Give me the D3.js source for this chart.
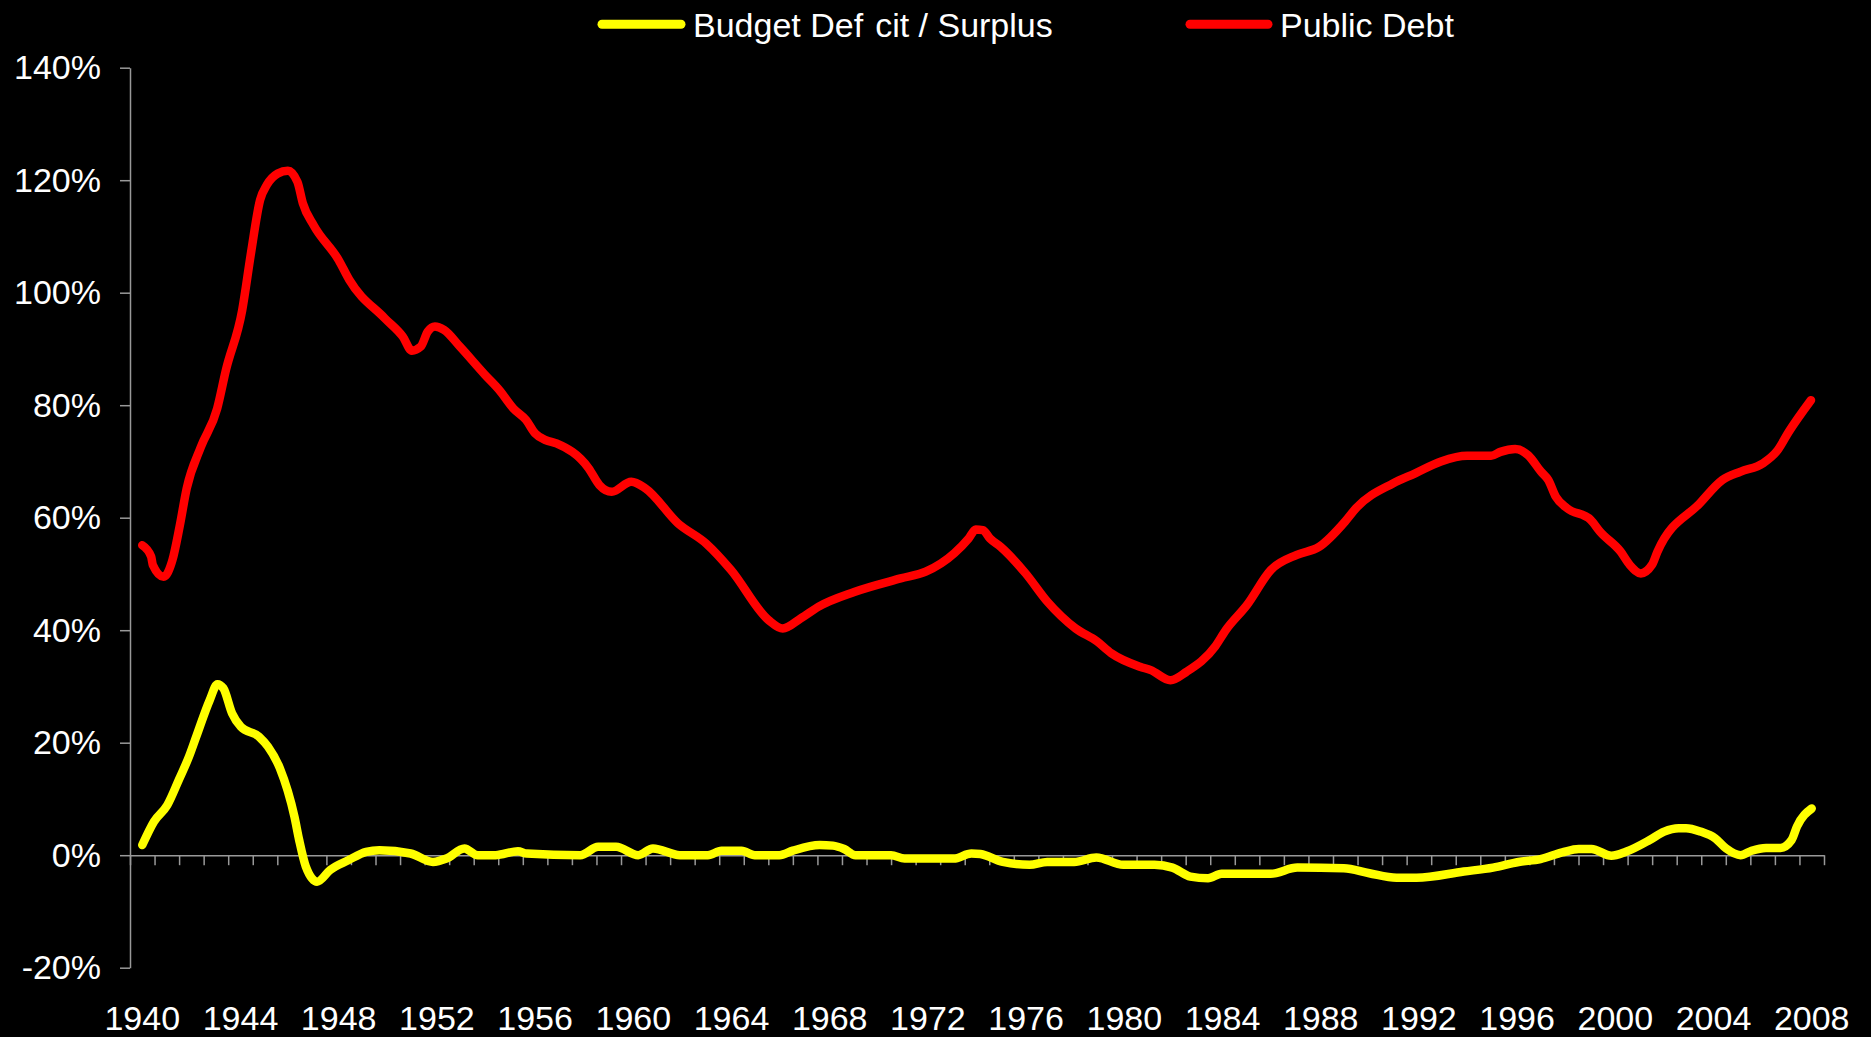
<!DOCTYPE html>
<html>
<head>
<meta charset="utf-8">
<script src="https://cdn.jsdelivr.net/npm/d3@7"></script>
<style>
  html, body { margin: 0; padding: 0; background: #000; }
  svg { display: block; }
  text { font-family: "Liberation Sans", Arial, sans-serif; fill: #fff; }
</style>
</head>
<body>
<svg id="chart" width="1871" height="1037"></svg>
<script>
// Fiscal years shown on the category axis
const firstYear = 1940;
const lastYear = 2008;
const yearLabels = [1940, 1944, 1948, 1952, 1956, 1960, 1964, 1968, 1972, 1976, 1980, 1984, 1988, 1992, 1996, 2000, 2004, 2008];
const percentTicks = [-20, 0, 20, 40, 60, 80, 100, 120, 140];

// Budget deficit (+) / surplus (-) as % of GDP
const deficitYears = [1940.0, 1940.48, 1941.02, 1941.5, 1941.9, 1942.2, 1942.75, 1943.06, 1943.3, 1943.66, 1944.02, 1944.75, 1945.12, 1945.6, 1946.2, 1946.39, 1946.66, 1947.12, 1947.66, 1948.39, 1949.12, 1949.66, 1950.93, 1951.84, 1952.39, 1953.12, 1953.66, 1954.39, 1955.3, 1955.66, 1957.84, 1958.57, 1959.3, 1960.2, 1960.8, 1961.9, 1963.04, 1963.59, 1964.41, 1964.95, 1965.95, 1966.5, 1967.59, 1968.13, 1968.59, 1969.05, 1970.5, 1971.05, 1973.05, 1973.77, 1974.14, 1975.05, 1976.14, 1976.86, 1977.96, 1978.86, 1979.96, 1981.23, 1981.96, 1982.69, 1983.41, 1983.96, 1985.96, 1987.05, 1988.94, 1989.98, 1991.09, 1991.9, 1993.83, 1995.02, 1996.06, 1996.95, 1997.84, 1998.51, 1999.03, 1999.84, 2000.43, 2001.4, 2001.99, 2002.58, 2002.88, 2003.47, 2004.07, 2004.51, 2005.1, 2005.55, 2006.14, 2006.73, 2007.18, 2007.4, 2008.0];
const deficitValues = [1.8, 6.0, 8.9, 13.5, 17.5, 21.1, 27.6, 30.4, 29.7, 25.2, 22.8, 21.1, 19.3, 15.5, 6.8, 2.7, -2.0, -4.7, -2.6, -0.9, 0.6, 0.9, 0.3, -1.2, -0.6, 1.2, 0.0, 0.0, 0.7, 0.3, 0.0, 1.5, 1.5, 0.0, 1.2, 0.0, 0.0, 0.8, 0.8, 0.0, 0.0, 0.8, 1.8, 1.7, 1.1, 0.0, 0.0, -0.6, -0.6, 0.3, 0.2, -1.2, -1.7, -1.2, -1.2, -0.4, -1.7, -1.7, -2.2, -3.8, -4.1, -3.3, -3.3, -2.2, -2.3, -3.2, -4.0, -4.0, -2.9, -2.2, -1.2, -0.7, 0.5, 1.1, 1.1, -0.1, 0.6, 2.7, 4.2, 4.8, 4.8, 4.2, 3.0, 1.2, 0.0, 0.8, 1.3, 1.3, 2.7, 5.1, 8.3];

// Public debt as % of GDP
const debtYears = [1940.0, 1940.36, 1940.43, 1940.87, 1941.23, 1941.52, 1941.81, 1942.39, 1943.05, 1943.41, 1944.07, 1944.43, 1944.8, 1945.08, 1945.52, 1945.93, 1946.32, 1946.54, 1946.98, 1948.0, 1948.43, 1949.89, 1950.61, 1950.98, 1951.34, 1951.63, 1951.92, 1952.29, 1952.94, 1953.96, 1954.54, 1955.12, 1955.63, 1956.0, 1956.43, 1956.87, 1958.18, 1958.62, 1959.12, 1959.92, 1960.5, 1961.82, 1962.97, 1963.98, 1965.51, 1966.09, 1966.82, 1967.55, 1969.0, 1970.89, 1971.91, 1973.08, 1973.66, 1973.95, 1974.24, 1974.53, 1974.97, 1975.98, 1976.86, 1978.02, 1978.89, 1979.47, 1980.64, 1981.08, 1981.88, 1982.53, 1983.7, 1984.13, 1985.0, 1985.97, 1987.03, 1987.93, 1988.99, 1989.44, 1990.94, 1991.85, 1992.9, 1993.96, 1994.94, 1995.32, 1995.92, 1996.45, 1996.97, 1997.27, 1997.58, 1998.03, 1999.0, 1999.38, 2000.21, 2000.59, 2001.04, 2001.49, 2001.72, 2003.45, 2004.36, 2005.11, 2006.02, 2006.61, 2007.07, 2007.97];
const debtValues = [55.1, 53.1, 51.6, 49.5, 52.5, 58.4, 65.2, 72.6, 79.4, 86.3, 96.9, 107.1, 116.5, 119.2, 121.2, 121.7, 119.7, 115.9, 112.0, 105.8, 102.3, 95.4, 92.2, 89.7, 90.4, 93.1, 94.0, 93.4, 90.4, 85.4, 82.7, 79.4, 77.4, 75.0, 73.8, 73.2, 68.8, 65.8, 64.6, 66.4, 65.2, 59.0, 55.4, 50.7, 41.8, 40.3, 42.1, 44.2, 46.8, 49.2, 50.4, 53.7, 56.3, 57.9, 57.8, 56.3, 54.8, 50.1, 45.1, 40.3, 38.0, 35.9, 33.5, 32.9, 31.1, 32.6, 37.1, 40.0, 44.5, 50.7, 53.4, 54.8, 59.3, 61.7, 66.1, 67.9, 70.0, 71.0, 71.0, 71.7, 72.2, 71.1, 68.2, 66.7, 63.7, 61.7, 59.6, 57.5, 54.0, 51.6, 50.1, 51.6, 54.0, 62.6, 66.7, 68.2, 69.7, 72.0, 75.3, 80.9];

const seriesColors = ["#ffff00", "#ff0000"];

const svg = d3.select("#chart");
svg.append("rect").attr("width", 1871).attr("height", 1037).attr("fill", "#000");

const plotLeft = 130, plotRight = 1824, plotTop = 67.7, plotBottom = 967.7;
const axisColor = "#999999";

// Each year occupies one category slot; values sit at the slot centres
const x = d3.scaleLinear().domain([firstYear - 0.5, lastYear + 0.5]).range([plotLeft, plotRight]);
const y = d3.scaleLinear().domain([-20, 140]).range([plotBottom, plotTop]);

// Y axis
const yAxis = svg.append("g")
  .attr("transform", `translate(${plotLeft},0)`)
  .call(d3.axisLeft(y).tickValues(percentTicks).tickSize(10).tickSizeOuter(0).tickPadding(19).tickFormat(d => d + "%"));
yAxis.select(".domain").attr("stroke", axisColor).attr("stroke-width", 1.5);
yAxis.selectAll(".tick line").attr("stroke", axisColor).attr("stroke-width", 1.5);
yAxis.selectAll(".tick text").attr("fill", "#fff").style("font-size", "34px")
  .style("font-family", '"Liberation Sans", Arial, sans-serif');

// X axis along the zero line, with a tick mark between every year
const boundaries = d3.range(firstYear - 0.5, lastYear + 1, 1);
const xAxis = svg.append("g")
  .attr("transform", `translate(0,${y(0)})`)
  .call(d3.axisBottom(x).tickValues(boundaries).tickSize(10).tickSizeOuter(0).tickFormat(""));
xAxis.select(".domain").attr("stroke", axisColor).attr("stroke-width", 1.5);
xAxis.selectAll(".tick line").attr("stroke", axisColor).attr("stroke-width", 1.5);

// Year labels along the bottom
svg.append("g").selectAll("text")
  .data(yearLabels)
  .join("text")
  .attr("x", d => x(d))
  .attr("y", 1030)
  .attr("text-anchor", "middle")
  .style("font-size", "34px")
  .text(d => d);

// Series lines
const series = [
  { years: deficitYears, values: deficitValues },
  { years: debtYears, values: debtValues }
];
const line = d3.line()
  .x(d => x(d[0]))
  .y(d => y(d[1]))
  .curve(d3.curveMonotoneX);

series.forEach((s, i) => {
  const pts = s.years.map((yr, k) => [yr, s.values[k]]);
  svg.append("path")
    .datum(pts)
    .attr("d", line)
    .attr("fill", "none")
    .attr("stroke", seriesColors[i])
    .attr("stroke-width", 8.5)
    .attr("stroke-linecap", "round")
    .attr("stroke-linejoin", "round");
});

// Legend (the first label is set in pieces to keep its wide "Def cit" spacing)
const legendItems = [
  { x0: 602, x1: 681, tx: 693, parts: [["Budget Def", 0], ["cit / Surplus", 12]] },
  { x0: 1190, x1: 1268, tx: 1280, parts: [["Public Debt", 0]] }
];
const legend = svg.append("g");
legendItems.forEach((item, i) => {
  legend.append("line")
    .attr("x1", item.x0).attr("x2", item.x1)
    .attr("y1", 24.3).attr("y2", 24.3)
    .attr("stroke", seriesColors[i])
    .attr("stroke-width", 9)
    .attr("stroke-linecap", "round");
  const t = legend.append("text")
    .attr("x", item.tx)
    .attr("y", 36.5)
    .style("font-size", "34px");
  item.parts.forEach(([str, gap]) => {
    t.append("tspan").attr("dx", gap).text(str);
  });
});
</script>
</body>
</html>
